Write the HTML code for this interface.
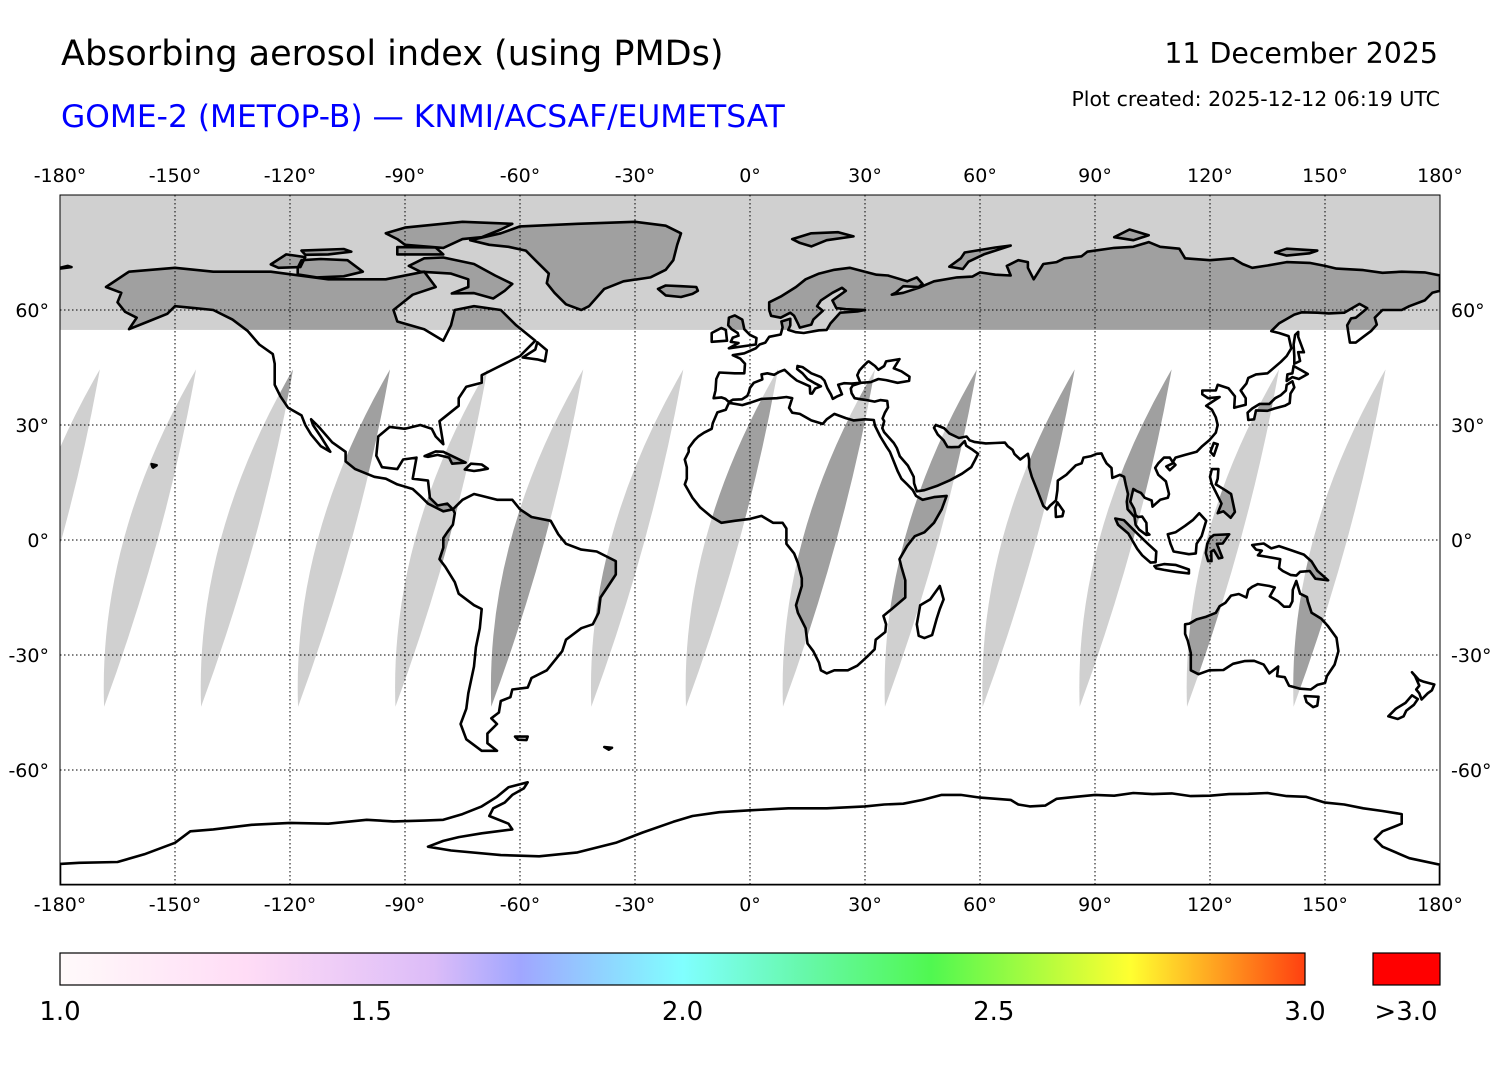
<!DOCTYPE html>
<html><head><meta charset="utf-8">
<style>
html,body{margin:0;padding:0;background:#fff;}
body{width:1500px;height:1065px;overflow:hidden;font-family:"Liberation Sans","DejaVu Sans",sans-serif;}
svg text{font-family:"DejaVu Sans","Liberation Sans",sans-serif;}
</style></head>
<body>
<svg id="chart" width="1500" height="1065" viewBox="0 0 1500 1065" xmlns="http://www.w3.org/2000/svg">
<defs>
<linearGradient id="cbar" x1="0" x2="1" y1="0" y2="0">
<stop offset="0" stop-color="#fffafa"/>
<stop offset="0.15" stop-color="#ffdcf6"/>
<stop offset="0.3" stop-color="#dcbcf8"/>
<stop offset="0.37" stop-color="#a0a6ff"/>
<stop offset="0.5" stop-color="#80ffff"/>
<stop offset="0.6" stop-color="#66f8a8"/>
<stop offset="0.7" stop-color="#50f850"/>
<stop offset="0.86" stop-color="#ffff30"/>
<stop offset="1" stop-color="#ff4010"/>
</linearGradient>
<clipPath id="plotclip"><rect x="60" y="195" width="1380" height="690"/></clipPath>
<clipPath id="grayclip"></clipPath>
</defs>
<text x="61" y="65" font-size="35" fill="#000">Absorbing aerosol index (using PMDs)</text>
<text x="61" y="127" font-size="31.3" fill="#0000ff">GOME-2 (METOP-B) — KNMI/ACSAF/EUMETSAT</text>
<text x="1438" y="63" font-size="28.4" text-anchor="end" fill="#000">11 December 2025</text>
<text x="1440" y="106" font-size="20.5" text-anchor="end" fill="#000">Plot created: 2025-12-12 06:19 UTC</text>
<g id="map" clip-path="url(#plotclip)"></g>
<g id="axes"></g>
<g id="cb"></g>
</svg>
<script>
const NS="http://www.w3.org/2000/svg";
// data arrays
const lonTicks=[-180,-150,-120,-90,-60,-30,0,30,60,90,120,150,180];
const latTicks=[60,30,0,-30,-60];
const orbitTopLons=[-193.3,-169.6,-144.5,-119.2,-93.9,-68.5,-43.5,-17.4,7.3,32.6,59.2,84.7,110,138,165.8];
const bandEdgeLat=54.8;
const cbTicks=[1.0,1.5,2.0,2.5,3.0];
const cbMin=1.0, cbMax=3.0;
const land={
 namerica:[[-168,66],[-162,70],[-150,71],[-140,70],[-125,70],[-110,68],[-95,68],[-85,70],[-82,66],[-88,64],[-93,60],[-92,57],[-85,55],[-80,52],[-78,56],[-77,60],[-72,61],[-65,60],[-61,56],[-56,52],[-60,48],[-64,46],[-66,45],[-70,43],[-70,41],[-74,40],[-76,37],[-76,35],[-81,31],[-80,25],[-82,27],[-83,29],[-86,30],[-90,29],[-94,29.5],[-97,27],[-97.5,22],[-96,19],[-92,18.5],[-90.5,21],[-87,21.5],[-88,16],[-84,15.5],[-83.5,11],[-81.5,9],[-79,9.5],[-77.5,8],[-80,7.5],[-84,9.5],[-86,11.5],[-88,13.3],[-92,14.5],[-95,16],[-98,16.5],[-103,18.5],[-105.5,20.5],[-105.5,23],[-109,25.5],[-112.5,29.5],[-114.5,31.5],[-114,30],[-112,27],[-109.5,23],[-112,24.5],[-114.5,27.5],[-116,30],[-117,32.5],[-120.5,34.5],[-122.5,37.5],[-124,40.5],[-124,46],[-124.5,48.5],[-128,51],[-131,54.5],[-135,57.5],[-140,60],[-145,60.5],[-150,61],[-152,59],[-157,57],[-162,55],[-160,58],[-163,59.5],[-165,62],[-164,64.5]],
 samerica:[[-77.5,8],[-75,10.5],[-72,12],[-70,11.5],[-66,10.5],[-62,10.5],[-60,8],[-57,6],[-52,5],[-50,1.5],[-48,-1],[-44,-2.5],[-40,-3],[-35,-5.5],[-35,-9],[-37,-12],[-39,-15],[-39.5,-19],[-41,-22],[-44,-23],[-48,-26],[-49,-29],[-53,-34],[-57,-36],[-58,-38.5],[-62,-39],[-62.5,-41],[-65,-42],[-65.5,-45],[-67.5,-46.5],[-66,-48],[-68.5,-50.5],[-68.5,-53],[-66,-55],[-70,-55],[-74,-52],[-75.5,-48],[-74,-44],[-73.5,-40],[-72,-33],[-71.5,-28],[-70.5,-23],[-70,-18],[-72,-17],[-76,-14],[-77,-11],[-79.5,-7],[-81,-5],[-80,-2],[-80,0.5],[-79,2],[-77.5,4],[-77,7]],
 greenland:[[-73,78.2],[-65,80],[-60,81.8],[-45,82.5],[-30,83],[-22,82],[-18,80],[-19,77],[-20,73],[-22,70.5],[-26,68.5],[-33,67.5],[-38,65.5],[-42,61],[-44,60],[-48,61.5],[-51,64.5],[-53,67],[-52.5,69.5],[-54,71],[-56,73],[-58.5,75.5],[-63,76.5],[-68,77]],
 africa:[[-17,21],[-16.5,19],[-16.5,16],[-17,14.5],[-15,11],[-13,8.5],[-10,6],[-7.5,4.5],[-4,5],[0,5.5],[3,6.3],[6,4.5],[8.5,4.5],[9.5,3],[9.5,-1],[11.5,-3.5],[12.5,-6],[13.5,-10],[13.5,-12],[12,-17],[12.5,-19],[14.5,-23],[15,-27],[16.5,-29],[18,-32],[18.5,-34],[20,-34.8],[22,-34],[25.5,-34],[28,-32.8],[30.5,-30.5],[32.5,-28.5],[32.8,-26],[35.3,-24],[35.5,-22],[34.8,-19.8],[37,-18],[40.5,-15],[40.5,-10.5],[39.5,-7],[39,-5],[41,-1.5],[43,1],[45.5,2],[48,4.5],[50,8],[51.3,11.5],[48,11.2],[45,10.5],[43.3,11.5],[42.5,13],[41,14.5],[39.5,16],[38.5,18],[37.3,21],[36.5,23],[35.5,24.5],[34,27],[32.6,29.8],[32.3,31.3],[30,31.5],[27,31.2],[25,31.8],[22,32.9],[20,31.5],[19,30.3],[16,31.2],[13,32.9],[11,33.2],[10.2,34.5],[11,37],[9.5,37.3],[7,37],[3,36.8],[0,35.8],[-2,35.2],[-5.5,35.8],[-6.3,34],[-8.5,33.3],[-9.7,30.5],[-10,29],[-12,28],[-13.5,27],[-14.5,26],[-16,24],[-16,23]],
 eurasia:[[-9.5,37],[-9,39],[-8.8,42],[-8,43.7],[-4,43.5],[-1.5,43.5],[-1.3,46],[-2.5,47.3],[-4.5,48.2],[-1.5,48.7],[1.5,50],[2.5,51],[4,51.5],[5,53],[8,53.6],[8.5,55.5],[8.2,57],[10.5,57.7],[10.5,56],[10,54.8],[12,54.2],[14,54],[18,54.7],[20,54.8],[21,56.5],[23.5,59.3],[28,59.6],[30,60],[25,60.2],[22.5,60.5],[21.5,62.5],[25,65],[24,65.8],[21.5,64.5],[18.5,62.5],[17.5,61],[19,59.8],[16.5,57.5],[16,56.2],[13,55.4],[12.5,56.5],[11.5,58.5],[10.5,59.3],[8,58],[5.5,58.5],[5,60],[5,62],[8,63.5],[12,66],[14.5,68],[18,69.5],[22,70.5],[26,71],[30,70],[33,69.2],[36,69],[41,67.5],[43.5,68.5],[45,66.8],[44,66],[40,66.2],[38,64.5],[37,64],[40,64.5],[44,65.8],[48,67.5],[54,68.5],[58,68.7],[60,69.8],[64,69.2],[68,69],[67,71.5],[70,73],[72.5,72.5],[72.5,71],[74,68],[76.5,72],[80,72.5],[82,73.5],[86.5,74],[88,75.2],[95,76.2],[100,76.5],[104,77.7],[107,76.5],[112,76],[113.5,73.5],[120,73],[126,73.5],[128.5,72],[131,71],[135,71.6],[140,72.5],[146,72.3],[150,71.5],[153,70.8],[160,70.4],[165,69.7],[170,70],[176,69.8],[180,69],[180,65],[178,64.5],[176,62.5],[172,61],[170,60],[165,60],[163,58],[163.5,56.2],[162,54.5],[160,53],[158,51.5],[156.5,51.5],[155.8,56],[156.8,57.8],[158,58],[160,59.6],[161,60.5],[159,61.6],[155,59.3],[151,59.1],[148,59.3],[144,59.4],[142,58.8],[138,56.5],[136,54.5],[138,54],[140.5,53.2],[141.2,50],[140,48],[138.5,46.5],[135,43.5],[132,43.2],[130,42.3],[129.5,40.8],[128,39],[129.3,37],[129.3,35.3],[127,34.7],[126.3,34.5],[126.5,37.5],[124.8,39.6],[122,40.5],[121.5,39],[118,39],[118,38],[119.5,37],[122.5,37.3],[120.5,36],[119,35],[120.5,34],[121.5,32],[122,30],[121.5,28],[119.8,26],[118,24.5],[116.5,23],[113.5,22.2],[111,21.5],[110.3,20.3],[109.5,21.5],[108,21.5],[106.5,20],[105.7,18.8],[106.5,17],[108.5,15.3],[109.3,12],[109,11],[107,10.5],[105,8.7],[104.8,10.3],[103,11],[102,12.3],[100.8,12.8],[100,13.3],[99.2,10],[100.2,8.2],[100.6,6.5],[101.2,6],[102.3,6.1],[103.4,4.5],[103.5,2],[104.2,1.4],[103.4,1.3],[101.5,2.7],[100.6,4],[100.3,6],[98.5,8],[98.3,10],[98.6,12],[98,14.5],[97.6,16.5],[96.5,17],[94.5,16.2],[94.3,18.8],[93,20],[92.2,21.5],[91.7,22.6],[90.5,22.5],[89,21.9],[87,21.5],[86.5,20],[85,19.5],[82.5,17],[80.3,15.5],[80.2,13],[79.8,10.3],[78.2,8.9],[77.5,8],[76.5,8.9],[75.5,11.5],[74.5,14],[73.5,16.5],[72.8,19],[72.8,21],[72.5,22.5],[70.5,21],[69,22.4],[68.5,23.5],[67.2,24.5],[66.5,25.4],[64,25.3],[61.5,25.2],[58.5,25.6],[57.3,26],[56.5,27],[54.5,26.6],[52,27.8],[50.6,29.2],[48.5,30],[48,29.3],[49,27.5],[50.5,26],[51.5,24.3],[52.5,24.2],[54.5,24.3],[56,25.8],[56.4,24.6],[57.8,23.7],[59.5,22.5],[58.5,20.5],[57.7,19],[55.3,17.3],[52.2,15.6],[49,14.2],[45.5,13],[43.5,12.7],[42.8,14.8],[42.7,16.5],[41.2,19.4],[39.1,21.8],[38.3,24],[37.5,25.3],[36,27],[35,28.1],[34.5,29.2],[35,31],[34.6,31.7],[35.2,33.2],[36,34.6],[35.8,36.3],[34,36.5],[32.5,36.1],[30.5,36.5],[29,36.7],[27.3,37],[26.5,38.3],[26.3,39.5],[26.8,40.3],[29,41],[31.5,41.2],[33.5,42],[35.5,41.7],[38.5,41],[41.5,41.5],[41.6,42.6],[39.5,44],[37.5,44.8],[39,47.2],[35.5,46.6],[35,45.4],[33.5,44.4],[32.6,45.4],[31,46.6],[30.7,46.5],[29.6,45.4],[28.6,44.3],[28,43],[28.8,41],[26.5,40.8],[24.5,40.9],[23,40.5],[24,38],[22.8,37.5],[21.6,36.8],[21.1,38],[20.2,39.6],[19.4,41.6],[18.5,42.5],[16,43.5],[13.7,45.1],[12.4,45.4],[12.3,44.6],[13.7,43.5],[15,42],[16.7,41],[18.5,40.1],[17,39.5],[16.2,38.2],[15.7,38.2],[15.6,40.1],[14,40.8],[12.2,41.6],[10.5,43],[9,44.4],[7.5,43.8],[6.3,43.1],[4.5,43.5],[3,43.2],[3.2,42],[3.2,41.9],[1,41],[0,39.7],[-0.3,38.5],[-0.7,37.6],[-2.1,36.7],[-4.5,36.6],[-5.5,36],[-6.4,36.8],[-7.5,37.2]],
 australia:[[113.5,-22],[113.5,-24.5],[114.2,-26.3],[115,-29.5],[115,-34],[117,-35],[119.8,-34],[123.5,-33.9],[126,-32.3],[129,-31.6],[131.5,-31.5],[134,-32.5],[135.5,-34.8],[137.8,-33],[137.5,-35.5],[139.5,-35.8],[140.6,-38],[143.5,-38.8],[146.3,-39],[148,-37.8],[150,-37.3],[150.5,-35.5],[152.5,-32.5],[153.5,-29],[153,-25.5],[150.8,-22.5],[149,-20.5],[146.5,-19],[145.5,-16],[145.3,-14.9],[143.5,-14],[142.5,-10.7],[141.6,-13],[141.5,-16],[140.8,-17.4],[139.3,-17.4],[137.8,-16],[135.6,-14.7],[136.9,-12.4],[135.5,-12],[132.5,-11.5],[131,-12.2],[130,-13],[129.5,-15],[127.5,-14.1],[125.5,-14.5],[124,-16.4],[122.5,-17.3],[121.5,-19],[119,-20],[116.5,-20.7],[114.6,-21.8]],
 antarctica:[[-180,-84.5],[-175,-84.2],[-165,-84],[-158,-82],[-150,-79],[-146,-76],[-140,-75.5],[-130,-74.3],[-120,-73.8],[-110,-74],[-100,-73],[-93,-73.4],[-85,-73.2],[-80,-73],[-75,-71.5],[-70,-69.5],[-66,-67],[-63,-64.5],[-58,-63.2],[-59,-64.8],[-62,-66.5],[-64,-68.5],[-67,-70],[-68,-72],[-63,-74],[-62,-75.5],[-70,-76.5],[-76,-77.5],[-80,-78.5],[-84,-80],[-78,-81],[-65,-82.2],[-55,-82.5],[-45,-81.5],[-35,-79],[-28,-76.3],[-20,-73.5],[-15,-72],[-8,-71],[0,-70.5],[10,-70],[20,-70],[30,-69.5],[35,-69],[40,-68.8],[45,-67.8],[50,-66.5],[55,-66.5],[60,-67.2],[68,-67.8],[70,-69],[73,-69.5],[77,-69.3],[80,-67.5],[85,-67],[90,-66.5],[95,-66.7],[100,-66],[105,-66.3],[110,-66.1],[115,-66.8],[120,-66.7],[125,-66.3],[130,-66.2],[135,-66],[140,-66.8],[145,-67],[150,-68.5],[155,-69],[160,-70],[165,-70.7],[170,-71.5],[170,-74],[165,-76],[163,-78],[165,-80],[172,-83],[180,-84.7],[180,-90],[-180,-90]],
 britain:[[-5.5,50],[1.5,51],[1.7,52.7],[0,53.5],[-1.5,55],[-2,57.5],[-4,58.6],[-5.5,58],[-5.7,56],[-4.8,55],[-3.2,54],[-3,53.3],[-4.5,52.8],[-5,51.7],[-3,51.4]],
 ireland:[[-6,52],[-6.3,54.8],[-7.5,55.3],[-10,54],[-10,51.7]],
 iceland:[[-24,65.5],[-22,66.4],[-18,66.2],[-14,66],[-13.6,65],[-15,64.2],[-18,63.4],[-22,63.8]],
 madagascar:[[44,-25],[43.5,-22],[44.4,-17],[47,-15.5],[49.5,-12],[50.5,-15.5],[49.5,-18],[48.7,-20.5],[47.5,-24.8],[45.5,-25.6]],
 japan:[[130,31.3],[131.5,31.5],[132,33.8],[135,33.7],[136.8,34.3],[139.5,35],[140.8,35.7],[141,38.2],[142,39.8],[141.5,41.4],[140,40.5],[139.8,39],[138.5,37.8],[137,37],[135.5,35.5],[133,35.5],[131,34.3],[129.8,33.2]],
 hokkaido:[[140,41.5],[141.5,42.5],[143.2,42],[145.5,43.3],[144,44.2],[141.8,45.4],[141.5,43.5],[140.2,43.2]],
 borneo:[[109,1.5],[109.7,-1],[110.5,-3],[114.5,-3.7],[116.3,-3.5],[116.5,-1],[117.8,1],[119,5],[117.2,7],[115.5,5.2],[113.5,3.7],[111,2]],
 sumatra:[[95.3,5.6],[97.5,5.2],[100.4,2.3],[103.8,-1],[106,-3],[105.8,-5.8],[104.5,-5.9],[102.3,-4],[101,-2.3],[98.7,1.7],[96,4]],
 java:[[105.5,-6.8],[108,-6.3],[111,-6.5],[114.5,-7.7],[114.5,-8.7],[111,-8.3],[108,-7.8],[106,-7.4]],
 sulawesi:[[119.5,-5.5],[120.4,-5.5],[120.3,-3],[121,-2.6],[122.3,-4.8],[123.2,-4.6],[121.8,-1],[123.3,-0.9],[125,1.5],[121,1.3],[120,0.5],[119.3,-1],[118.9,-3.4]],
 newguinea:[[131,-1.3],[134,-0.9],[136,-2.2],[138,-1.6],[141,-2.6],[144.5,-3.8],[146.5,-5.6],[148,-8],[150.8,-10.5],[147.5,-10.1],[146,-8.1],[143.5,-8.3],[142.5,-9.3],[141,-9.1],[139,-8.1],[138,-7.3],[138.3,-5],[135,-4.4],[132.5,-4],[133.5,-2.8],[132,-2.5]],
 philippines:[[120.5,18.5],[122.2,18.5],[122,16],[121.5,14.5],[124,13],[125.5,12],[126.5,7.3],[125.4,5.8],[123.5,7.5],[122,7],[123,9.5],[121.5,12.5],[120.5,14.5],[120,16.5]],
 taiwan:[[120.1,23],[121,25.3],[122,25],[121,22]],
 hainan:[[108.6,19.2],[110.5,20.1],[111,19.6],[109.5,18.2]],
 srilanka:[[79.8,6],[79.7,8.5],[80.2,9.8],[81.8,7.5],[81.5,6.2]],
 nz_north:[[172.7,-34.5],[174.5,-36.5],[175.8,-37],[178.5,-37.7],[177.9,-39.2],[176.8,-40],[175.2,-41.6],[174.6,-40],[173.8,-39],[174.6,-38],[173.5,-35.5]],
 nz_south:[[172.7,-40.5],[174.2,-41.5],[173.2,-43],[171.2,-44.5],[170.5,-46],[169,-46.7],[166.5,-46],[168.5,-44],[171,-42.5]],
 tasmania:[[144.7,-40.7],[148.3,-40.9],[148,-43.2],[146.9,-43.6],[145.2,-42.3]],
 cuba:[[-84.9,21.9],[-82,23.1],[-80,23],[-77.5,21.8],[-74.2,20.2],[-77.7,19.9],[-78.5,21.5],[-81.5,22.2],[-84,21.7]],
 hispaniola:[[-74.4,18.4],[-72.8,19.9],[-70,19.7],[-68.4,18.6],[-70.5,18.2],[-72,18]],
 newfoundland:[[-59.3,47.6],[-56,49.7],[-55.5,51.6],[-53,49.5],[-53.5,46.6],[-55.5,47.1]],
 baffin:[[-80,73.7],[-72,72],[-66.5,69],[-62,66.8],[-64,65],[-67,63],[-72,64.4],[-77.8,64.3],[-73.5,66],[-73.5,68],[-78,69.5],[-86,70],[-89,71.5],[-85,73.5]],
 victoria:[[-118,71],[-117,73],[-112,73.3],[-105,73],[-101,70],[-106,68.8],[-113,68.5],[-118,69.3]],
 ellesmere:[[-90,77],[-80,76.2],[-75,78.5],[-70,79],[-65,81],[-62,82.5],[-75,83],[-90,81.5],[-95,80],[-92,78.5]],
 devon:[[-92,74.5],[-80,74.5],[-82,76.3],[-92,76.4]],
 banks:[[-125,71.9],[-121,74.5],[-116,73.8],[-117.3,71.2],[-123,71]],
 melville:[[-117,75.5],[-106,75.9],[-104,75.2],[-110,74.5],[-116,74.4]],
 svalbard:[[11,78.5],[16,80],[23,80.3],[27,79.2],[20,78.2],[16,76.6],[13,77.5]],
 novaya:[[52,71.3],[55,73.5],[56,75],[64,76.3],[68,76.8],[61,74.5],[57,72.6],[55.5,70.7]],
 severnaya:[[95,79],[99,81],[104,79.5],[100,78.2]],
 nsiberian:[[137,75],[140,76],[148,75.5],[146,74.8],[140,74.2]],
 sakhalin:[[142,46],[143.5,46.7],[143,49],[144.5,49],[143,53],[143,54.3],[142.2,53.5],[141.8,51],[142,48]],
 wrangel:[[-180,71],[-178,71.5],[-177,71.2],[-180,70.8]],
 hawaii:[[-156.1,19.8],[-154.8,19.5],[-155.7,18.9],[-155.9,19.1]],
 srgia:[[-38,-54],[-36,-54.2],[-36.8,-54.7]],
 falkland:[[-61.3,-51.3],[-58,-51.3],[-58.3,-52.2],[-60.5,-52.1]]
};
const X=lon=>60+(lon+180)*1380/360;
const Y=lat=>540-lat*690/180;
function mk(tag,attrs,parent){const e=document.createElementNS(NS,tag);for(const k in attrs)e.setAttribute(k,attrs[k]);parent.appendChild(e);return e;}
const map=document.getElementById('map');
const axes=document.getElementById('axes');
const cb=document.getElementById('cb');
function polyStr(pts){return pts.map(p=>X(p[0]).toFixed(1)+','+Y(p[1]).toFixed(1)).join(' ');}
const bg=mk('rect',{x:60,y:195,width:1380,height:690,fill:'#fff'},map);


const band=mk('rect',{x:60,y:195,width:1380,height:Y(bandEdgeLat)-195,fill:'#d0d0d0'},map);


const gclip=document.getElementById('grayclip');
mk('rect',{x:60,y:195,width:1380,height:Y(bandEdgeLat)-195},gclip);
function stripePath(lon){
  const tx=X(lon),ty=Y(44.5),bx=tx-92,by=Y(-43.5);
  const mx=(tx+bx)/2,my=(ty+by)/2;
  return `M${tx},${ty} Q${mx-52},${my} ${bx},${by} Q${mx+16},${my} ${tx},${ty} Z`;
}
orbitTopLons.forEach((lon,i)=>{
  const p=mk('path',{d:stripePath(lon),fill:'#d0d0d0'},map);
  
  
  mk('path',{d:stripePath(lon)},gclip);
});
const landG=mk('g',{},map);


const darkG=mk('g',{'clip-path':'url(#grayclip)'},map);
const lineG=mk('g',{},map);
for(const k in land){
  const s=polyStr(land[k]);
  mk('polygon',{points:s,fill:'#fff'},landG);
  mk('polygon',{points:s,fill:'#a0a0a0'},darkG);
  const o=mk('polygon',{points:s,fill:'none',stroke:'#000','stroke-width':2.6,'stroke-linejoin':'round'},lineG);
  
  
}
lonTicks.forEach(l=>{
  if(l===-180||l===180)return;
  const g=mk('line',{x1:X(l),x2:X(l),y1:195,y2:885,stroke:'#000','stroke-width':1,'stroke-dasharray':'1.5,2.5'},map);
  
  
});
latTicks.forEach(l=>{
  const g=mk('line',{x1:60,x2:1440,y1:Y(l),y2:Y(l),stroke:'#000','stroke-width':1,'stroke-dasharray':'1.5,2.5'},map);
  
  
});
const frame=mk('rect',{x:60,y:195,width:1380,height:690,fill:'none',stroke:'#000','stroke-width':1},axes);


lonTicks.forEach(l=>{
  const t1=mk('text',{x:X(l),y:182,'font-size':19,'text-anchor':'middle'},axes);t1.textContent=l+'°';
  
  
  const t2=mk('text',{x:X(l),y:911,'font-size':19,'text-anchor':'middle'},axes);t2.textContent=l+'°';
  
  
});
latTicks.forEach(l=>{
  const t1=mk('text',{x:49,y:Y(l)+7,'font-size':19,'text-anchor':'end'},axes);t1.textContent=l+'°';
  
  
  const t2=mk('text',{x:1451,y:Y(l)+7,'font-size':19,'text-anchor':'start'},axes);t2.textContent=l+'°';
  
  
});
const CBX=v=>60+(v-cbMin)/(cbMax-cbMin)*1245;
const bar=mk('rect',{x:60,y:953,width:1245,height:32,fill:'url(#cbar)',stroke:'#000','stroke-width':1.2},cb);


const over=mk('rect',{x:1373,y:953,width:67,height:32,fill:'#ff0000',stroke:'#000','stroke-width':1.2},cb);


cbTicks.forEach(v=>{
  const t=mk('text',{x:CBX(v),y:1020,'font-size':26,'text-anchor':'middle'},cb);t.textContent=v.toFixed(1);
  
  
});
const ot=mk('text',{x:1406,y:1020,'font-size':26,'text-anchor':'middle'},cb);ot.textContent='>3.0';


</script>
</body></html>
